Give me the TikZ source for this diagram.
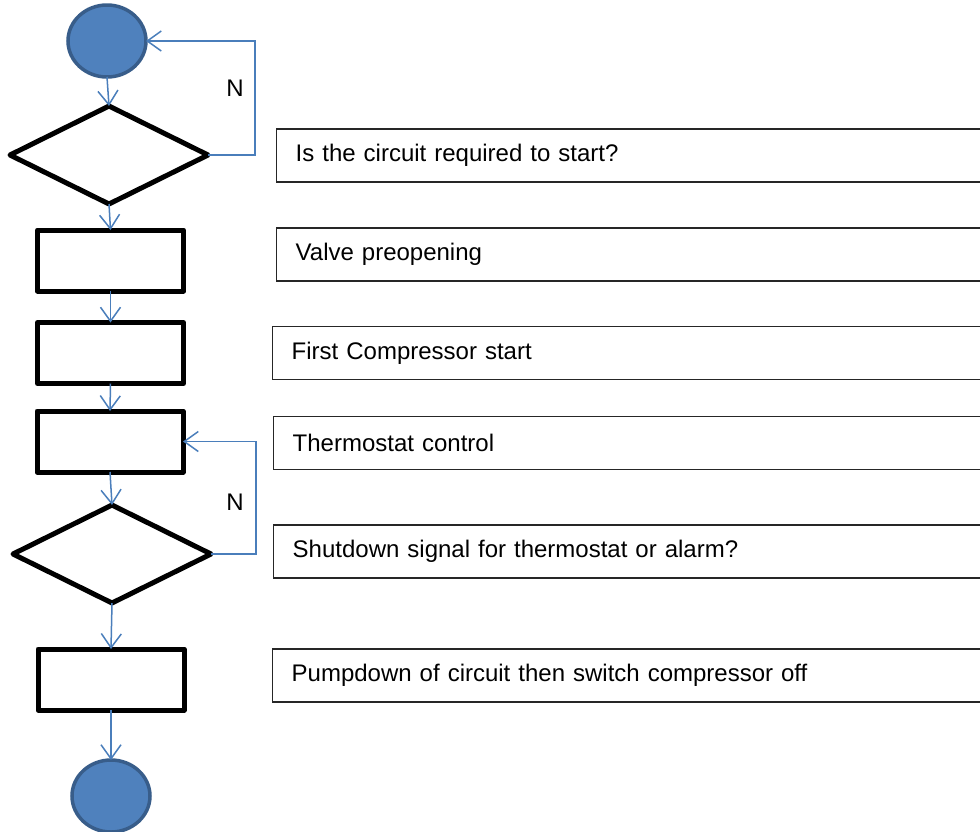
\documentclass[tikz,border=0pt]{standalone}
\usepackage{fontspec}
\setmainfont{Liberation Sans}
\usetikzlibrary{shapes.geometric,arrows.meta}
\definecolor{fillblue}{HTML}{4F81BD}
\definecolor{edgeblue}{HTML}{385D8A}
\definecolor{arrowblue}{HTML}{4A7EBB}
\begin{document}
\begin{tikzpicture}[x=1pt,y=-1pt,
  term/.style={ellipse,draw=edgeblue,fill=fillblue,line width=3.5pt,minimum width=78pt,minimum height=72pt,inner sep=0pt,outer sep=0pt},
  decide/.style={diamond,draw=black,line width=5pt,line join=round,minimum width=198pt,minimum height=98pt,inner sep=0pt,outer sep=0pt},
  proc/.style={rectangle,draw=black,line width=5pt,line join=round,minimum width=146pt,minimum height=61pt,inner sep=0pt,outer sep=0pt},
  tbox/.style={rectangle,draw=black!85,line width=1.4pt,anchor=west,text width=690pt,inner xsep=19pt,inner ysep=0pt,minimum height=53pt,align=left,font=\fontsize{24}{28}\selectfont},
  flow/.style={draw=arrowblue,line width=1.5pt,-{Straight Barb[length=14pt,width=20pt,line width=1.5pt]}},
  lbl/.style={font=\fontsize{24}{28}\selectfont,inner sep=0pt}
]
\useasboundingbox (0,0) rectangle (980,831);
% flowchart shapes
\node[term] (c1) at (107,41) {};
\node[decide] (d1) at (109,155) {};
\node[proc] (r1) at (110.5,260.5) {};
\node[proc] (r2) at (110.5,353) {};
\node[proc] (r3) at (110,441.5) {};
\node[decide] (d2) at (112,554) {};
\node[proc] (r4) at (111,679.5) {};
\node[term] (c2) at (111,796) {};
% connectors
\draw[flow] (c1.south) -- (d1.north);
\draw[flow] (d1.south) -- (r1.north);
\draw[flow] (r1.south) -- (r2.north);
\draw[flow] (r2.south) -- (r3.north);
\draw[flow] (r3.south) -- (d2.north);
\draw[flow] (d2.south) -- (r4.north);
\draw[flow] (r4.south) -- (c2.north);
\coordinate (k1) at (255,0);
\coordinate (k2) at (256,0);
\draw[flow] (d1.east) -- (d1.east -| k1) -- (c1.east -| k1) -- (c1.east);
\draw[flow] (d2.east) -- (d2.east -| k2) -- (r3.east -| k2) -- (r3.east);
\node[lbl] (n1) at (235,88) {N};
\node[lbl] (n2) at (235,502) {N};
% description boxes
\node[tbox] (t1) at (276,155.5) {Is the circuit required to start?};
\node[tbox] (t2) at (276,254.5) {Valve preopening};
\node[tbox] (t3) at (272,353) {First Compressor start};
\node[tbox] (t4) at (273,443) {Thermostat control};
\node[tbox] (t5) at (273,551.5) {Shutdown signal for thermostat or alarm?};
\node[tbox] (t6) at (272,675.5) {Pumpdown of circuit then switch compressor off};
\end{tikzpicture}
\end{document}
